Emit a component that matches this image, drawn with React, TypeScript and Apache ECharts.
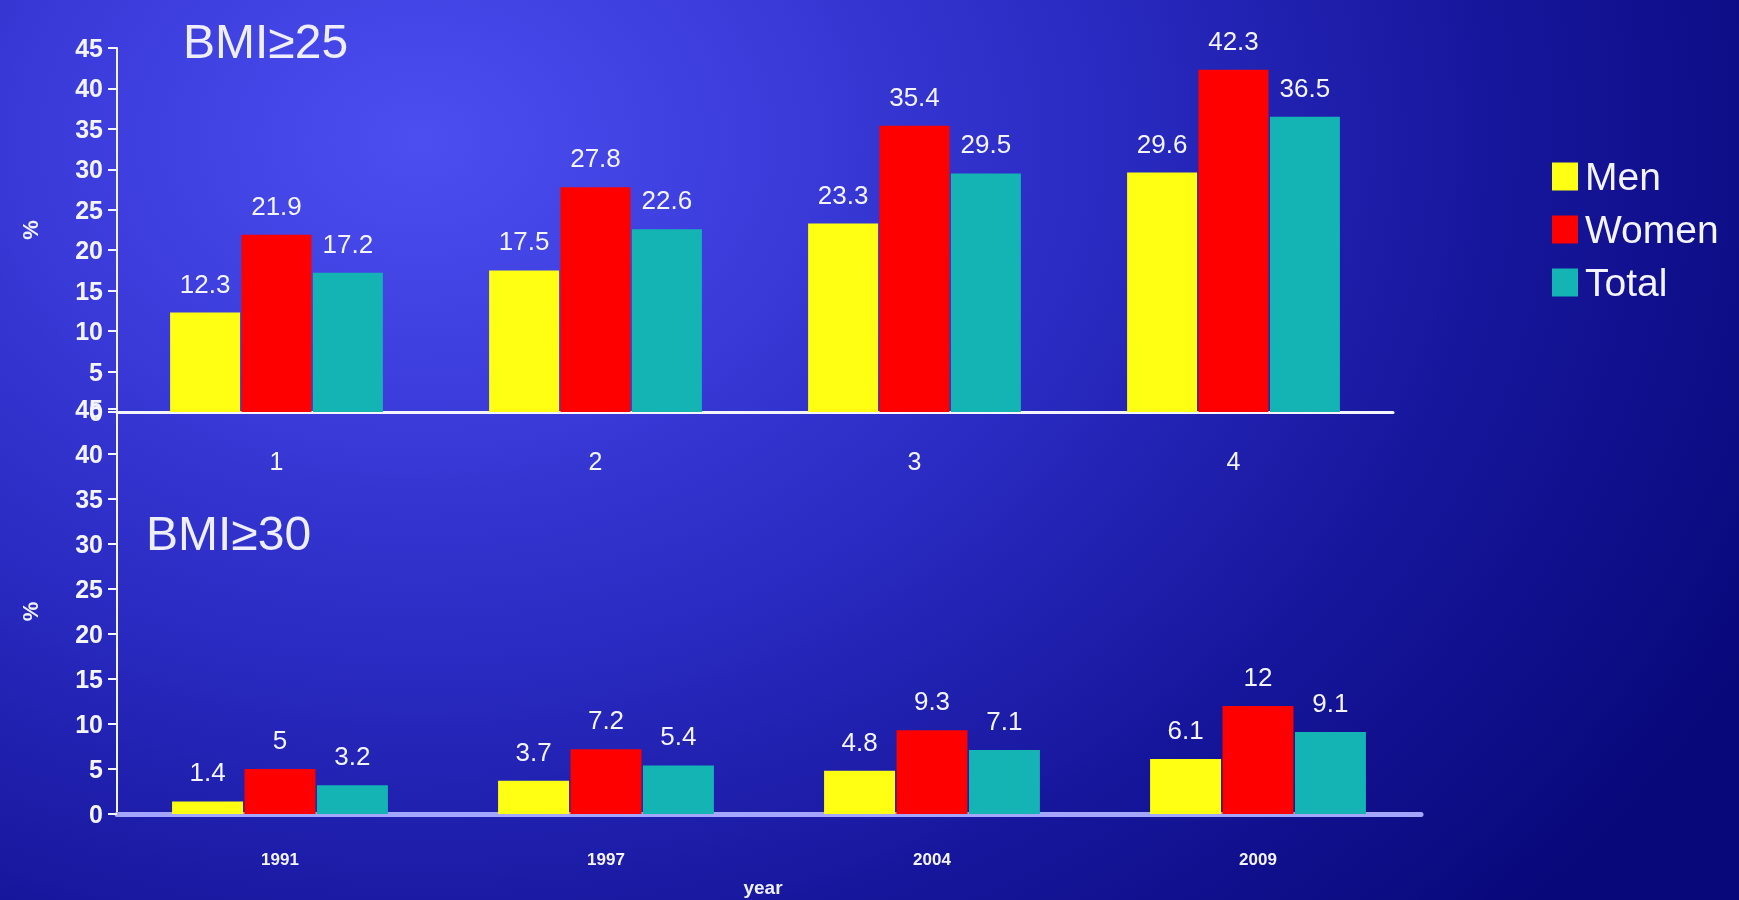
import React, { useEffect, useRef } from "react";
import * as echarts from "echarts";

const topCategories = ["1", "2", "3", "4"];
const bottomCategories = ["1991", "1997", "2004", "2009"];
const seriesNames = ["Men", "Women", "Total"];
const top25Men = [12.3, 17.5, 23.3, 29.6];
const top25Women = [21.9, 27.8, 35.4, 42.3];
const top25Total = [17.2, 22.6, 29.5, 36.5];
const bot30Men = [1.4, 3.7, 4.8, 6.1];
const bot30Women = [5, 7.2, 9.3, 12];
const bot30Total = [3.2, 5.4, 7.1, 9.1];
const colors = ["#ffff14", "#ff0000", "#14b4b4"];

const FONT = "'Liberation Sans', Arial, sans-serif";

export default function App() {
  const ref = useRef<HTMLDivElement>(null);
  useEffect(() => {
    if (!ref.current) return;
    const chart = echarts.init(ref.current, null, { renderer: "svg" });
    const yAxisBase = (gridIndex: number) => ({
      type: "value",
      gridIndex,
      min: 0,
      max: 45,
      interval: 5,
      name: "%",
      nameLocation: "middle",
      nameGap: 76,
      nameRotate: 90,
      nameTextStyle: { color: "#f0f0ff", fontSize: 22, fontWeight: "bold", fontFamily: FONT },
      axisLine: { show: true, lineStyle: { color: "#f4f4ff", width: 2 } },
      axisTick: { show: true, length: 9, lineStyle: { color: "#f4f4ff", width: 2 } },
      axisLabel: { color: "#f4f4ff", fontSize: 25, fontWeight: "bold", fontFamily: FONT, margin: 14 },
      splitLine: { show: false },
    });
    const label = {
      show: true,
      position: "top",
      distance: 16,
      color: "#f4f4ff",
      fontSize: 26,
      fontFamily: FONT,
    };
    const mk = (name: string, data: number[], idx: number, color: string, bw: number) => ({
      type: "bar",
      name,
      xAxisIndex: idx,
      yAxisIndex: idx,
      data,
      barWidth: bw,
      barGap: "2%",
      itemStyle: { color },
      label,
    });
    chart.setOption({
      animation: false,
      backgroundColor: "transparent",
      title: [
        {
          text: "BMI≥25",
          left: 178,
          top: 12,
          textStyle: { color: "#eeeeff", fontSize: 48, fontWeight: "normal", fontFamily: FONT },
        },
        {
          text: "BMI≥30",
          left: 141,
          top: 504,
          textStyle: { color: "#eeeeff", fontSize: 48, fontWeight: "normal", fontFamily: FONT },
        },
      ],
      legend: {
        data: seriesNames,
        orient: "vertical",
        left: 1547,
        top: 152,
        icon: "rect",
        itemWidth: 26,
        itemHeight: 28,
        itemGap: 14,
        textStyle: { color: "#f4f4ff", fontSize: 39, fontFamily: FONT, padding: [0, 0, 0, 2] },
      },
      grid: [
        { left: 117, top: 48, width: 1276, height: 364, outerBoundsMode: "none", containLabel: false },
        { left: 117, top: 409, width: 1304, height: 405, outerBoundsMode: "none", containLabel: false },
      ],
      xAxis: [
        {
          type: "category",
          gridIndex: 0,
          data: topCategories,
          axisLine: { show: true, lineStyle: { color: "#f4f4ff", width: 3 } },
          axisTick: { show: false },
          axisLabel: { color: "#f4f4ff", fontSize: 25, fontFamily: FONT, margin: 36 },
        },
        {
          type: "category",
          gridIndex: 1,
          data: bottomCategories,
          name: "year",
          nameLocation: "middle",
          nameGap: 64,
          nameTextStyle: { color: "#f0f0ff", fontSize: 19, fontWeight: "bold", fontFamily: FONT, padding: [0, 12, 0, 0] },
          axisLine: { show: true, lineStyle: { color: "#a4a6ff", width: 5 } },
          axisTick: { show: false },
          axisLabel: { color: "#f4f4ff", fontSize: 17, fontWeight: "bold", fontFamily: FONT, margin: 37 },
        },
      ],
      yAxis: [yAxisBase(0), yAxisBase(1)],
      series: [
        mk("Men", top25Men, 0, colors[0], 70),
        mk("Women", top25Women, 0, colors[1], 70),
        mk("Total", top25Total, 0, colors[2], 70),
        mk("Men", bot30Men, 1, colors[0], 71),
        mk("Women", bot30Women, 1, colors[1], 71),
        mk("Total", bot30Total, 1, colors[2], 71),
      ],
    });
    return () => chart.dispose();
  }, []);
  return (
    <div
      ref={ref}
      style={{
        position: "fixed",
        left: 0,
        top: 0,
        width: 1739,
        height: 900,
        background:
          "radial-gradient(ellipse 1500px 1150px at 420px 140px, #4c4ef0 0%, #3c3ddc 22%, #2a2bc2 45%, #16169c 72%, #08087a 100%)",
      }}
    />
  );
}
